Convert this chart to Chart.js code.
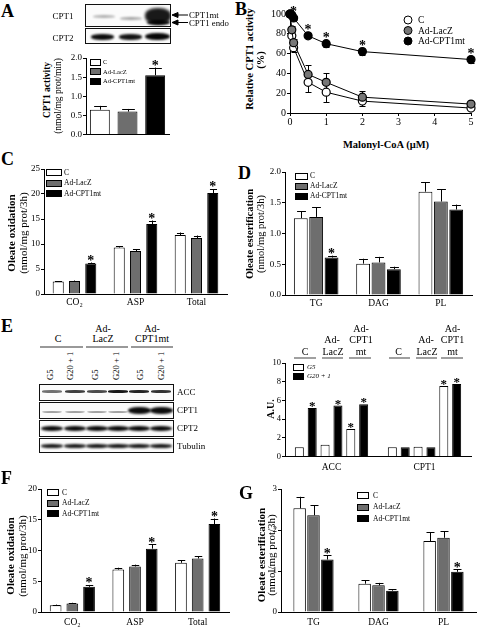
<!DOCTYPE html>
<html><head><meta charset="utf-8">
<script src="https://cdn.jsdelivr.net/npm/chart.js@4.4.1/dist/chart.umd.min.js"></script>
<style>
html,body{margin:0;padding:0;background:#fff;}
body{width:477px;height:629px;position:relative;overflow:hidden;font-family:'Liberation Serif','Times New Roman',serif;color:#000;}
.letter{position:absolute;font-weight:bold;font-size:18px;line-height:1;}
.t{position:absolute;white-space:nowrap;line-height:1;transform:translate(-50%,-50%);}
.l{position:absolute;white-space:nowrap;line-height:1;transform:translateY(-50%);}
.blot{position:absolute;border:1px solid #111;background:#fbfbfb;overflow:hidden;box-sizing:border-box;}
.band{position:absolute;background:#000;border-radius:45%;}
.chartbox{position:absolute;}
svg{position:absolute;left:0;top:0;}
</style></head><body>
<script>
// ---------------- DATA ----------------
// Panel A: CPT1 activity (nmol/mg prot/min)
const aGroups = ['C', 'Ad-LacZ', 'Ad-CPT1mt'];
const aActivity = [0.65, 0.60, 1.55];
const aErr = [0.10, 0.07, 0.20];
const aSig = [0, 0, 1];

// Panel B: relative CPT1 activity (%) vs malonyl-CoA (µM)
const bMalonyl = [0, 0.05, 0.1, 0.5, 1, 2, 5];
const bC = [100, 78, 66, 31, 21, 12, 5];
const bLacZ = [100, 84, 71, 39, 31, 16, 9];
const bMt = [100, 99, 96, 78, 70, 62, 54];
const bErrC = [0, 4, 4, 10, 10, 5, 2];
const bErrLacZ = [0, 4, 4, 9, 9, 6, 2];
const bErrMt = [0, 1, 2, 2, 3, 3, 3];
const bSigMt = [0, 0, 1, 1, 1, 1, 1];

// Panel C: oleate oxidation
const oxCats = ['CO\u2082', 'ASP', 'Total'];
const cC = [2.5, 9.3, 11.8];
const cLacZ = [2.6, 8.6, 11.2];
const cMt = [6.1, 14.0, 20.2];
const cErrC = [0.1, 0.3, 0.5];
const cErrLacZ = [0.1, 0.4, 0.5];
const cErrMt = [0.2, 0.7, 0.8];
const cSigMt = [1, 1, 1];

// Panel D: oleate esterification
const estCats = ['TG', 'DAG', 'PL'];
const dC = [1.25, 0.51, 1.68];
const dLacZ = [1.27, 0.53, 1.52];
const dMt = [0.61, 0.42, 1.39];
const dErrC = [0.11, 0.08, 0.15];
const dErrLacZ = [0.16, 0.09, 0.20];
const dErrMt = [0.03, 0.04, 0.08];
const dSigMt = [1, 0, 0];

// Panel E: A.U. (ACC, CPT1) at G5 and G20 + 1
const eCats = ['ACC', 'CPT1'];
const eC_G5 = [1.0, 1.0];
const eC_G20 = [5.2, 1.0];
const eLacZ_G5 = [1.25, 1.05];
const eLacZ_G20 = [5.45, 1.0];
const eMt_G5 = [2.95, 7.55];
const eMt_G20 = [5.6, 7.75];
const eSigC_G20 = [1, 0];
const eSigLacZ_G20 = [1, 0];
const eSigMt_G5 = [1, 1];
const eSigMt_G20 = [1, 1];

// Panel F: oleate oxidation
const fC = [1.1, 6.9, 8.0];
const fLacZ = [1.4, 7.4, 8.7];
const fMt = [4.1, 10.3, 14.3];
const fErrC = [0.1, 0.3, 0.4];
const fErrLacZ = [0.1, 0.3, 0.4];
const fErrMt = [0.3, 0.7, 0.9];
const fSigMt = [1, 1, 1];

// Panel G: oleate esterification
const gC = [2.53, 0.69, 1.73];
const gLacZ = [2.36, 0.65, 1.81];
const gMt = [1.28, 0.52, 0.98];
const gErrC = [0.28, 0.08, 0.22];
const gErrLacZ = [0.24, 0.06, 0.16];
const gErrMt = [0.10, 0.03, 0.06];
const gSigMt = [1, 0, 1];

// ---------------- STYLE ----------------
const SERIF = "'Liberation Serif','Times New Roman',serif";
const WH = '#ffffff', GR = '#6e6e6e', BK = '#000000';
Chart.defaults.font.family = SERIF;
Chart.defaults.color = '#000';
Chart.defaults.animation = false;

// error bars + asterisks
const marks = {
  id: 'marks',
  beforeDatasetsDraw(chart, args, o) {
    const ctx = chart.ctx, ys = chart.scales.y;
    chart.data.datasets.forEach((ds, i) => {
      if (!ds.errors) return;
      const meta = chart.getDatasetMeta(i);
      meta.data.forEach((el, j) => {
        const raw = ds.data[j]; const v = (typeof raw === 'object') ? raw.y : raw;
        const e = ds.errors[j]; if (!e) return;
        const cap = el.width ? el.width * 0.32 : (o.cap || 3);
        const x = Math.round(el.x) + 0.5;
        const y0 = ys.getPixelForValue(v), yt = ys.getPixelForValue(v + e);
        ctx.save(); ctx.strokeStyle = '#000'; ctx.lineWidth = 1;
        ctx.beginPath();
        ctx.moveTo(x, y0); ctx.lineTo(x, yt);
        ctx.moveTo(x - cap, Math.round(yt) + 0.5); ctx.lineTo(x + cap, Math.round(yt) + 0.5);
        if (ds.errBoth) {
          const yb = ys.getPixelForValue(v - e);
          ctx.moveTo(x, y0); ctx.lineTo(x, yb);
          ctx.moveTo(x - cap, Math.round(yb) + 0.5); ctx.lineTo(x + cap, Math.round(yb) + 0.5);
        }
        ctx.stroke(); ctx.restore();
      });
    });
  },
  afterDatasetsDraw(chart, args, o) {
    const ctx = chart.ctx, ys = chart.scales.y;
    const fs = o.star || 14;
    chart.data.datasets.forEach((ds, i) => {
      if (!ds.sig) return;
      const meta = chart.getDatasetMeta(i);
      meta.data.forEach((el, j) => {
        if (!ds.sig[j]) return;
        const raw = ds.data[j]; const v = (typeof raw === 'object') ? raw.y : raw;
        const e = ds.errors ? ds.errors[j] : 0;
        let top = ys.getPixelForValue(v + e);
        if (ds.pointRadius && e < 4) top = Math.min(top, ys.getPixelForValue(v) - ds.pointRadius);
        ctx.save(); ctx.fillStyle = '#000';
        ctx.font = 'bold ' + fs + 'px ' + SERIF;
        ctx.textAlign = 'center'; ctx.textBaseline = 'alphabetic';
        ctx.fillText('*', el.x, top - (o.gap == null ? 1.5 : o.gap) + fs * 0.27);
        ctx.restore();
      });
    });
  }
};

// legend inside plot area
const inset = {
  id: 'inset',
  afterDraw(chart, args, o) {
    if (!o || !o.show) return;
    const ctx = chart.ctx, ca = chart.chartArea;
    let y = ca.top + o.dy;
    chart.data.datasets.forEach(ds => {
      if (ds.legend === false) return;
      const x = ca.left + o.dx;
      ctx.save();
      ctx.strokeStyle = '#000'; ctx.lineWidth = 1;
      if (o.point) {
        ctx.fillStyle = ds.pointBackgroundColor;
        ctx.beginPath(); ctx.arc(x + o.r, y + o.r, o.r, 0, Math.PI * 2); ctx.fill(); ctx.stroke();
        ctx.fillStyle = '#000'; ctx.font = o.fs + 'px ' + SERIF;
        ctx.textBaseline = 'middle'; ctx.textAlign = 'left';
        ctx.fillText(ds.label, x + o.r + o.tx, y + o.r + 0.5);
      } else {
        ctx.fillStyle = ds.backgroundColor;
        ctx.fillRect(Math.round(x) + 0.5, Math.round(y) + 0.5, o.w, o.h);
        ctx.strokeRect(Math.round(x) + 0.5, Math.round(y) + 0.5, o.w, o.h);
        ctx.fillStyle = '#000'; ctx.font = (o.italic ? 'italic ' : '') + o.fs + 'px ' + SERIF;
        ctx.textBaseline = 'middle'; ctx.textAlign = 'left';
        ctx.fillText(ds.label, x + o.w + o.tx, y + o.h / 2 + 1);
      }
      ctx.restore();
      y += o.gap;
    });
  }
};

function mkCanvas(area, m) {
  const d = document.createElement('div');
  d.className = 'chartbox';
  d.style.left = (area.x0 - m.l) + 'px';
  d.style.top = (area.y0 - m.t) + 'px';
  d.style.width = (area.x1 - area.x0 + m.l + m.r) + 'px';
  d.style.height = (area.y1 - area.y0 + m.t + m.b) + 'px';
  const c = document.createElement('canvas');
  d.appendChild(c); document.body.appendChild(d);
  return c;
}
function yAxis(min, max, step, dec, fs, L) {
  return {
    min, max,
    ticks: { stepSize: step, font: { size: fs }, color: '#000', padding: 1,
      callback: v => dec ? Number(v).toFixed(dec) : v },
    grid: { drawOnChartArea: false, drawTicks: true, tickLength: 3, color: '#000', lineWidth: 1 },
    border: { display: true, color: '#000', width: 1 },
    afterFit: s => { s.width = L; }
  };
}
function xCat(fs, pad, B, show) {
  return {
    grid: { display: false, drawTicks: false, tickLength: 0 },
    border: { display: true, color: '#000', width: 1 },
    ticks: { display: show, font: { size: fs }, color: '#000', padding: pad, maxRotation: 0, autoSkip: false },
    afterFit: s => { s.height = B; }
  };
}
function bds(label, data, color, errors, sig, legend) {
  return { label, data, backgroundColor: color, borderColor: '#000', borderWidth: 1,
    errors, sig, legend: legend !== false };
}
function barChart(area, m, labels, datasets, y, x, cp, bp, leg, star) {
  const cv = mkCanvas(area, m);
  if (leg) { leg.show = true; leg.dx = leg.x - area.x0; leg.dy = leg.y - area.y0; }
  return new Chart(cv, {
    type: 'bar', data: { labels, datasets },
    options: {
      responsive: true, maintainAspectRatio: false, animation: false, events: [],
      layout: { padding: { left: 0, right: m.r, top: m.t, bottom: 0 } },
      datasets: { bar: { categoryPercentage: cp, barPercentage: bp } },
      plugins: { legend: { display: false }, tooltip: { enabled: false }, inset: leg || {}, marks: { star: star || 14 } },
      scales: { x, y }
    },
    plugins: [marks, inset]
  });
}

// ---------------- CHARTS ----------------
// A
barChart({x0: 86, y0: 58, x1: 169, y1: 135}, {l: 30, t: 12, r: 4, b: 6}, [''],
  [bds(aGroups[0], [aActivity[0]], WH, [aErr[0]], [aSig[0]]),
   bds(aGroups[1], [aActivity[1]], GR, [aErr[1]], [aSig[1]]),
   bds(aGroups[2], [aActivity[2]], BK, [aErr[2]], [aSig[2]])],
  yAxis(0, 2, 0.5, 1, 9, 30), xCat(9, 2, 6, false), 1.0, 0.72,
  {x: 90, y: 58.5, w: 10, h: 6, gap: 9.5, tx: 3, fs: 6.5});

// B
(function () {
  const area = {x0: 290, y0: 14, x1: 471, y1: 113}, m = {l: 30, t: 12, r: 7, b: 14};
  const cv = mkCanvas(area, m);
  const mk = (label, ys, fill, errs, sig, order) => ({
    label, data: bMalonyl.map((x, i) => ({x, y: ys[i]})),
    borderColor: '#000', borderWidth: 1, pointRadius: 4, pointBorderWidth: 1.2,
    pointBackgroundColor: fill, pointBorderColor: '#000', errors: errs, errBoth: true,
    sig, tension: 0, clip: false, order, fill: false
  });
  new Chart(cv, {
    type: 'line',
    data: { datasets: [mk('C', bC, WH, bErrC, null, 2), mk('Ad-LacZ', bLacZ, '#777777', bErrLacZ, null, 1), mk('Ad-CPT1mt', bMt, BK, bErrMt, bSigMt, 0)] },
    options: {
      responsive: true, maintainAspectRatio: false, animation: false, events: [],
      layout: { padding: { left: 0, right: m.r, top: m.t, bottom: 0 } },
      plugins: { legend: { display: false }, tooltip: { enabled: false },
        inset: { show: true, point: true, dx: 404 - area.x0, dy: 16 - area.y0, r: 4, gap: 10.5, tx: 10, fs: 9.5 },
        marks: { star: 14, cap: 3, gap: 1.5 } },
      scales: {
        x: { type: 'linear', min: 0, max: 5,
          ticks: { stepSize: 1, font: { size: 10 }, color: '#000', padding: 0 },
          grid: { drawOnChartArea: false, drawTicks: true, tickLength: 3, color: '#000' },
          border: { display: true, color: '#000', width: 1 },
          afterFit: s => { s.height = m.b; } },
        y: yAxis(0, 100, 20, 0, 10, 30)
      }
    },
    plugins: [marks, inset]
  });
})();

// C
barChart({x0: 44, y0: 169, x1: 227, y1: 294}, {l: 28, t: 10, r: 6, b: 18}, oxCats,
  [bds('C', cC, WH, cErrC, null), bds('Ad-LacZ', cLacZ, GR, cErrLacZ, null), bds('Ad-CPT1mt', cMt, BK, cErrMt, cSigMt)],
  yAxis(0, 25, 5, 0, 9, 28), xCat(9.5, 3, 18, true), 0.8, 0.68,
  {x: 46, y: 169, w: 15, h: 6, gap: 10.5, tx: 3, fs: 7.5});

// D
barChart({x0: 285, y0: 172, x1: 472, y1: 295}, {l: 28, t: 10, r: 5, b: 18}, estCats,
  [bds('C', dC, WH, dErrC, null), bds('Ad-LacZ', dLacZ, GR, dErrLacZ, null), bds('Ad-CPT1mt', dMt, BK, dErrMt, dSigMt)],
  yAxis(0, 2, 0.5, 1, 9, 28), xCat(9.5, 3, 18, true), 0.74, 0.9,
  {x: 295, y: 172.5, w: 12, h: 6, gap: 10, tx: 3, fs: 7.5});

// E (A.U.)
barChart({x0: 285, y0: 362.5, x1: 471, y1: 456}, {l: 16, t: 10, r: 6, b: 20}, eCats,
  [bds('G5', eC_G5, WH, null, null), bds('G20 + 1', eC_G20, BK, null, eSigC_G20),
   bds('G5', eLacZ_G5, WH, null, null, false), bds('G20 + 1', eLacZ_G20, BK, null, eSigLacZ_G20, false),
   bds('G5', eMt_G5, WH, null, eSigMt_G5, false), bds('G20 + 1', eMt_G20, BK, null, eSigMt_G20, false)],
  yAxis(0, 10, 2, 0, 8.5, 16), xCat(9.5, 5, 20, true), 0.83, 0.7,
  {x: 293, y: 363, w: 10, h: 6, gap: 9, tx: 4, fs: 7, italic: true}, 13);

// F
barChart({x0: 41, y0: 489, x1: 229, y1: 612}, {l: 28, t: 10, r: 8, b: 17}, oxCats,
  [bds('C', fC, WH, fErrC, null), bds('Ad-LacZ', fLacZ, GR, fErrLacZ, null), bds('Ad-CPT1mt', fMt, BK, fErrMt, fSigMt)],
  yAxis(0, 20, 5, 0, 9, 28), xCat(9.5, 5, 17, true), 0.8, 0.7,
  {x: 47, y: 489, w: 11, h: 6, gap: 10.5, tx: 4, fs: 7.5});

// G
barChart({x0: 281, y0: 489, x1: 476, y1: 612}, {l: 26, t: 10, r: 1, b: 17}, estCats,
  [bds('C', gC, WH, gErrC, null), bds('Ad-LacZ', gLacZ, GR, gErrLacZ, null), bds('Ad-CPT1mt', gMt, BK, gErrMt, gSigMt)],
  yAxis(0, 3, 1, 0, 9, 26), xCat(9.5, 5, 17, true), 0.64, 0.9,
  {x: 357, y: 492, w: 11, h: 6, gap: 11.5, tx: 5, fs: 7.5});

// ---------------- TEXT / DECOR ----------------
function T(s, cx, cy, size, weight, rot) {
  const d = document.createElement('div');
  d.className = 't'; d.textContent = s;
  d.style.left = cx + 'px'; d.style.top = cy + 'px';
  d.style.fontSize = size + 'px'; if (weight) d.style.fontWeight = weight;
  if (rot) d.style.transform = 'translate(-50%,-50%) rotate(-90deg)';
  document.body.appendChild(d); return d;
}
function L(s, x, cy, size) {
  const d = document.createElement('div');
  d.className = 'l'; d.textContent = s;
  d.style.left = x + 'px'; d.style.top = cy + 'px'; d.style.fontSize = size + 'px';
  document.body.appendChild(d); return d;
}
function lane(s, cx, bottom, size) {
  const d = document.createElement('div');
  d.style.position = 'absolute'; d.style.whiteSpace = 'nowrap';
  d.style.fontSize = size + 'px'; d.style.lineHeight = '10px';
  d.style.left = cx + 'px'; d.style.top = (bottom - 5) + 'px';
  d.style.transformOrigin = '0 50%'; d.style.transform = 'rotate(-90deg)';
  d.textContent = s; document.body.appendChild(d);
}
function letter(s, x, y) {
  const d = document.createElement('div'); d.className = 'letter'; d.textContent = s;
  d.style.left = x + 'px'; d.style.top = y + 'px'; document.body.appendChild(d);
}
function blot(x, y, w, h, bands) {
  const b = document.createElement('div'); b.className = 'blot';
  b.style.left = x + 'px'; b.style.top = y + 'px'; b.style.width = w + 'px'; b.style.height = h + 'px';
  bands.forEach(bd => {
    const e = document.createElement('div'); e.className = 'band';
    e.style.left = (bd[0] - x) + 'px'; e.style.top = (bd[1] - y) + 'px';
    e.style.width = bd[2] + 'px'; e.style.height = bd[3] + 'px';
    e.style.opacity = bd[4]; e.style.filter = 'blur(' + (bd[5] || 0.8) + 'px)';
    b.appendChild(e);
  });
  document.body.appendChild(b);
}

letter('A', 1, 2); letter('B', 235, 0); letter('C', 1, 150); letter('D', 238, 164);
letter('E', 1, 317); letter('F', 1, 469); letter('G', 239, 484);

// axis titles
T('CPT1 activity', 48, 90, 9.5, 'bold', true);
T('(nmol/mg prot/min)', 59, 96, 9.5, null, true);
T('Relative CPT1 activity', 250, 59, 10.5, 'bold', true);
T('(%)', 261, 60, 10.5, 'bold', true);
T('Malonyl-CoA (\u03bcM)', 386, 145, 10.5, 'bold');
T('Oleate oxidation', 11, 233, 11, 'bold', true);
T('(nmol/mg prot/3h)', 23, 233, 11, null, true);
T('Oleate esterification', 250, 234, 10.5, 'bold', true);
T('(nmol/mg prot/3h)', 261, 234, 10.5, null, true);
T('A.U.', 271, 409, 10, 'bold', true);
T('Oleate oxidation', 10, 556, 11, 'bold', true);
T('(nmol/mg prot/3h)', 21.5, 556, 11, null, true);
T('Oleate esterification', 261, 555, 11, 'bold', true);
T('(nmol/mg prot/3h)', 271, 555, 11, null, true);

// Panel A blot
T('CPT1', 63, 16, 9); T('CPT2', 63, 38, 9);
blot(85, 4, 86, 23, [[92, 14, 22, 3, 0.3, 1], [119, 16, 22, 3, 0.35, 1], [144, 7, 26, 16, 0.9, 1.6], [146, 19, 23, 5, 0.95, 1]]);
blot(85, 28, 86, 16, [[90, 33, 23, 6, 0.95, 1], [118, 33, 23, 6, 0.92, 1], [144, 32, 25, 7, 0.97, 1]]);
L('CPT1mt', 189, 15, 8.8); L('CPT1 endo', 189, 23, 8.8);

// Panel E blot
const hE = [['C', 58, 339], ['Ad-', 103, 329], ['LacZ', 103, 339], ['Ad-', 152, 329], ['CPT1mt', 152, 339]];
hE.forEach(h => T(h[0], h[1], h[2], 10));
[[50, 'G5'], [70, 'G20 + 1'], [95, 'G5'], [116, 'G20 + 1'], [140, 'G5'], [161, 'G20 + 1']].forEach(a => lane(a[1], a[0], 380, 8.6));
const lanesE = [51, 74, 96, 117, 138, 160];
blot(39, 384, 135, 17, lanesE.map((c, i) => [c - 10, 389, 20, 2.5, [0.55, 0.75, 0.7, 0.9, 0.85, 0.8][i], 0.7]));
blot(39, 402, 135, 17, lanesE.map((c, i) => i < 4 ? [c - 10, 410, 20, 2, 0.35, 0.7] : [c - 11, 406, 23, 7, 0.95, 1]));
blot(39, 420, 135, 17, lanesE.map(c => [c - 11, 425, 22, 5, 0.95, 0.9]));
blot(39, 438, 135, 15, lanesE.map(c => [c - 11, 443, 22, 4, 0.9, 0.9]));
L('ACC', 177, 392, 9); L('CPT1', 177, 410, 9); L('CPT2', 177, 428, 9); L('Tubulin', 177, 446, 9);

// Panel E chart headers
[['C', 305, 351.5], ['Ad-', 332, 340], ['LacZ', 333, 351.5], ['Ad-', 361, 329], ['CPT1', 361, 340], ['mt', 361, 351.5],
 ['C', 398.5, 351.5], ['Ad-', 426, 340], ['LacZ', 427, 351.5], ['Ad-', 452.5, 329], ['CPT1', 452.5, 340], ['mt', 452.5, 351.5]]
  .forEach(h => T(h[0], h[1], h[2], 10));

// lines and arrows
const svg = `<svg width="477" height="629" xmlns="http://www.w3.org/2000/svg">
<g stroke="#777" stroke-width="1.4">
<line x1="40" y1="347" x2="83" y2="347"/><line x1="86" y1="347" x2="128" y2="347"/><line x1="131" y1="347" x2="173" y2="347"/>
<line x1="294" y1="358" x2="316" y2="358"/><line x1="322" y1="358" x2="343" y2="358"/><line x1="349" y1="358" x2="371" y2="358"/>
<line x1="389" y1="358" x2="410" y2="358"/><line x1="416" y1="358" x2="437" y2="358"/><line x1="441" y1="358" x2="463" y2="358"/>
</g>
<g stroke="#000" stroke-width="1" fill="#000">
<line x1="177" y1="15" x2="188" y2="15"/><polygon points="172,15 178,12.5 178,17.5"/>
<line x1="177" y1="22.5" x2="188" y2="22.5"/><polygon points="172,22.5 178,20 178,25"/>
</g></svg>`;
document.body.insertAdjacentHTML('beforeend', svg);
</script>
</body></html>
